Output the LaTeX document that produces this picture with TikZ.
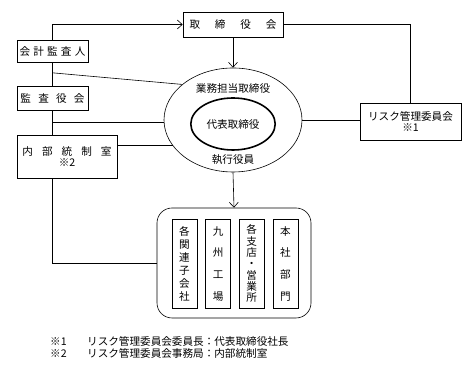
\documentclass[tikz,border=0pt]{standalone}
\usepackage{fontspec}
\setmainfont{Noto Sans CJK JP}
\usepackage{xcolor}
\usetikzlibrary{arrows.meta,positioning,shapes.geometric}

\begin{document}
\begin{tikzpicture}[x=1pt,y=1pt,node distance=8pt,>={Straight Barb[length=5pt,width=9pt]},font=\fontsize{10.6}{12}\selectfont]

\tikzset{
box/.style={
    draw,
    semithick,
    inner sep=1pt,
    align=center
},
unit/.style={
    draw,
    semithick,
    minimum width=25pt,
    minimum height=89pt,
    text width=12pt,
    align=center,
    inner sep=0pt,
    anchor=north
},
link/.style={semithick},
arrow/.style={->,semithick}
}

\useasboundingbox (0,0) rectangle (475,371);

\node[box,minimum width=100pt,minimum height=25pt] (board) at (233,346.5)
    {取\hspace{1.4em}締\hspace{1.4em}役\hspace{1.4em}会};
\node[box,minimum width=71pt,minimum height=22pt] (auditor) at (52.5,320)
    {会\hspace{0.3em}計\hspace{0.3em}監\hspace{0.3em}査\hspace{0.3em}人};
\node[box,minimum width=71pt,minimum height=24pt] (kansa) at (52.5,273)
    {監\hspace{0.68em}査\hspace{0.68em}役\hspace{0.68em}会};
\node[box,minimum width=100pt,minimum height=43pt] (naibu) at (67,214.5)
    {内\hspace{0.85em}部\hspace{0.85em}統\hspace{0.85em}制\hspace{0.85em}室\\[-1pt]※2};
\node[box,minimum width=101pt,minimum height=37pt] (risk) at (410.5,249.5)
    {リスク管理委員会\\[-1pt]※1};

\node[ellipse,draw,semithick,minimum width=138pt,minimum height=104pt] (outer) at (233,251) {};
\node[ellipse,draw,line width=1.6pt,minimum width=72pt,minimum height=52pt] (inner) at (233,247)
    {代表取締役};
\node (director) at (233,283) {業務担当取締役};
\node (officer) at (233,211) {執行役員};

\node[draw,semithick,rounded corners=15pt,minimum width=154pt,minimum height=110pt] (group) at (234,108) {};
\node[unit] (sub) at (184.5,152) {各\\[1pt]関\\[1pt]連\\[1pt]子\\[1pt]会\\[1pt]社};
\node[unit,right=8pt of sub.north east,anchor=north west] (plant)
    {九\\[9.7pt]州\\[9.7pt]工\\[9.7pt]場};
\node[unit,right=8pt of plant.north east,anchor=north west] (branch)
    {各\\[-0.7pt]支\\[-0.7pt]店\\[-0.7pt]・\\[-0.7pt]営\\[-0.7pt]業\\[-0.7pt]所};
\node[unit,right=8pt of branch.north east,anchor=north west] (head)
    {本\\[9.7pt]社\\[9.7pt]部\\[9.7pt]門};

\node[anchor=west,inner sep=0pt] (note1) at (50,29.5) {\makebox[37pt][l]{※1}リスク管理委員会委員長：代表取締役社長};
\node[anchor=west,inner sep=0pt] (note2) at (50,18) {\makebox[37pt][l]{※2}リスク管理委員会事務局：内部統制室};

\draw[arrow] (auditor.north) |- (board.west);
\draw[link] (auditor.south) -- coordinate[pos=0.45] (tapa) (kansa.north);
\draw[link] (tapa) -- (outer.145);
\draw[link] (kansa.south) -- coordinate[pos=0.5] (tapb) (kansa.south |- naibu.north);
\draw[link] (tapb) -- (tapb -| outer.west);
\draw[link] (naibu.east |- outer.203) -- (outer.203);
\draw[link] (outer.east) -- (outer.east -| risk.west);
\draw[link] (board.east) -| (risk.north);
\draw[arrow] (board.south) -- (outer.north);
\draw[arrow] (outer.south) -- (group.north);
\draw[link] (auditor.south |- naibu.south) |- (group.west);

\end{tikzpicture}
\end{document}
